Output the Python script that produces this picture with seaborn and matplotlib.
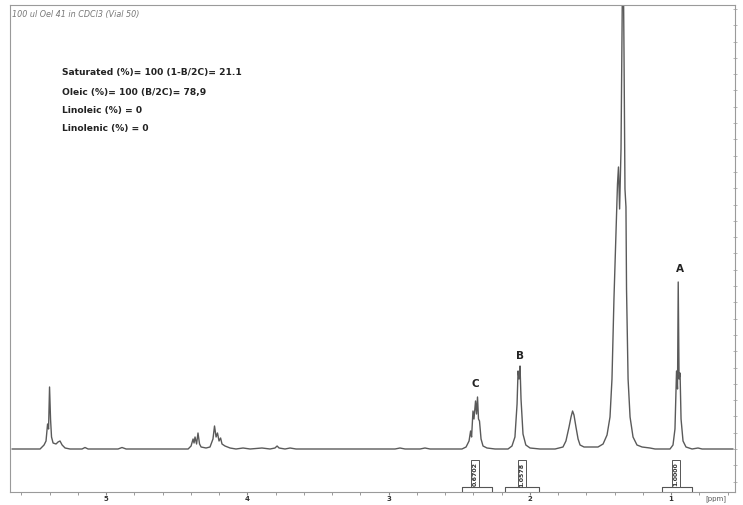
import numpy as np
import pandas as pd
import matplotlib
matplotlib.use("Agg")
import matplotlib.pyplot as plt
from matplotlib.ticker import FixedLocator, NullFormatter
import seaborn as sns

# ---- data ----
trace_ppm = [5.666, 5.467, 5.453, 5.439, 5.425, 5.414, 5.407, 5.400, 5.393, 5.386, 5.375, 5.354, 5.340, 5.326,
             5.311, 5.290, 5.255, 5.170, 5.149, 5.127, 4.915, 4.887, 4.858, 4.419, 4.398, 4.384, 4.377, 4.370,
             4.359, 4.349, 4.338, 4.327, 4.292, 4.264, 4.243, 4.232, 4.221, 4.211, 4.200, 4.189, 4.179, 4.158,
             4.122, 4.080, 4.030, 3.980, 3.896, 3.839, 3.804, 3.789, 3.775, 3.733, 3.697, 3.655, 2.954, 2.919,
             2.883, 2.777, 2.742, 2.706, 2.480, 2.451, 2.430, 2.419, 2.412, 2.402, 2.395, 2.384, 2.377, 2.370,
             2.363, 2.356, 2.345, 2.331, 2.303, 2.246, 2.154, 2.126, 2.105, 2.090, 2.083, 2.076, 2.069, 2.062,
             2.048, 2.028, 1.998, 1.928, 1.821, 1.765, 1.744, 1.722, 1.708, 1.697, 1.687, 1.673, 1.658, 1.644,
             1.616, 1.573, 1.517, 1.481, 1.453, 1.432, 1.418, 1.404, 1.389, 1.379, 1.372, 1.364, 1.354, 1.347,
             1.340, 1.333, 1.326, 1.319, 1.315, 1.304, 1.290, 1.269, 1.241, 1.205, 1.149, 1.113, 1.007, 0.986,
             0.972, 0.961, 0.954, 0.949, 0.943, 0.936, 0.929, 0.915, 0.894, 0.851, 0.809, 0.780, 0.561]
trace_int = [0, 0, 2, 4, 8, 25, 20, 62, 30, 12, 6, 5, 7, 8,
             4, 1, 0, 0, 1.5, 0, 0, 1.5, 0, 0, 3, 10, 6, 12,
             5, 16, 5, 2, 1, 2, 10, 23, 12, 16, 8, 11, 5, 3,
             1, 0, 1, 0, 1, 0, 1, 3, 1, 0, 1, 0, 0, 1,
             0, 0, 1, 0, 0, 2, 8, 18, 12, 38, 30, 48, 35, 52,
             30, 28, 10, 3, 1, 0, 0, 3, 12, 45, 78, 70, 83, 50,
             15, 4, 1, 0, 0, 2, 8, 22, 32, 38, 34, 22, 10, 4,
             2, 2, 2, 5, 14, 32, 70, 150, 220, 265, 282, 240, 300, 420,
             520, 400, 260, 242, 160, 70, 32, 12, 4, 2, 1, 0, 0, 4,
             20, 78, 60, 167, 70, 76, 30, 8, 2, 0, 1, 0, 0]

peak_labels = ["A", "B", "C"]
peak_label_ppm = [0.936, 2.069, 2.388]
peak_label_int = [181, 94, 66]

integral_lo = [2.480, 2.175, 1.066]
integral_hi = [2.267, 1.935, 0.853]
integral_center = [2.388, 2.057, 0.965]
integral_values = ["0.6702", "1.0578", "1.0000"]

major_ticks = [5, 4, 3, 2, 1]
major_labels = ["5", "4", "3", "2", "1"]

title_text = "100 ul Oel 41 in CDCl3 (Vial 50)"
result_lines = ["Saturated (%)= 100 (1-B/2C)= 21.1",
                "Oleic (%)= 100 (B/2C)= 78,9",
                "Linoleic (%) = 0",
                "Linolenic (%) = 0"]

# ---- figure ----
sns.set_style("white")
plt.rcParams["font.family"] = ["DejaVu Sans"]

W, H = 743, 506
fig = plt.figure(figsize=(W / 100, H / 100), dpi=100)
ax = fig.add_axes([10 / W, (H - 493) / H, (735 - 10) / W, (493 - 6) / H])

df = pd.DataFrame({"ppm": trace_ppm, "intensity": trace_int})
sns.lineplot(data=df, x="ppm", y="intensity", sort=False, estimator=None,
             color="#5a5a5a", linewidth=1.0, ax=ax)

ax.set_xlim(5.68, 0.547)
ax.set_ylim(-43, 444)
ax.set_xlabel("")
ax.set_ylabel("")

for s in ax.spines.values():
    s.set_color("#9a9a9a")
    s.set_linewidth(0.8)

# x ticks
ax.xaxis.set_major_locator(FixedLocator(major_ticks))
ax.set_xticklabels(major_labels, fontsize=5, fontweight="bold", color="#333333")
minor = [round(v, 1) for v in np.arange(0.6, 5.61, 0.2)]
ax.xaxis.set_minor_locator(FixedLocator(minor))
ax.tick_params(axis="x", which="major", direction="out", length=2.2, width=0.8,
               color="#888888", pad=0.2, bottom=True)
ax.tick_params(axis="x", which="minor", direction="out", length=2.0, width=0.7,
               color="#999999", bottom=True)

# right y ticks
ax.yaxis.tick_right()
yt = [16.3 * k for k in range(-2, 28)]
ax.yaxis.set_major_locator(FixedLocator(yt))
ax.yaxis.set_major_formatter(NullFormatter())
ax.tick_params(axis="y", which="major", direction="inout", length=3, width=0.6,
               color="#aaaaaa", right=True, left=False)

# peak labels
for lab, px, py in zip(peak_labels, peak_label_ppm, peak_label_int):
    ax.text(px, py, lab, ha="center", va="center", fontsize=7.5,
            fontweight="bold", color="#222222")

# integral brackets
for lo, hi, c, v in zip(integral_lo, integral_hi, integral_center, integral_values):
    ax.plot([lo, lo, hi, hi], [-43, -37.5, -37.5, -43], color="#555555", lw=0.8,
            clip_on=False)
    ax.text(c, -24.5, v, rotation=90, ha="center", va="center", fontsize=4.5,
            fontweight="bold", color="#333333",
            bbox=dict(boxstyle="square,pad=0.25", fc="white", ec="#555555", lw=0.7))

# title & result text (figure pixel coords)
fig.text(12 / W, 1 - 14 / H, title_text, fontsize=5.8, style="italic",
         color="#777777", ha="left", va="center")
ys = [72, 92, 111, 129]
for line, y in zip(result_lines, ys):
    fig.text(62 / W, 1 - y / H, line, fontsize=6.6, fontweight="bold",
             color="#222222", ha="left", va="center")

fig.text(716 / W, 1 - 499 / H, "[ppm]", fontsize=5, color="#555555",
         ha="center", va="center")

fig.savefig("out.png", dpi=100)
